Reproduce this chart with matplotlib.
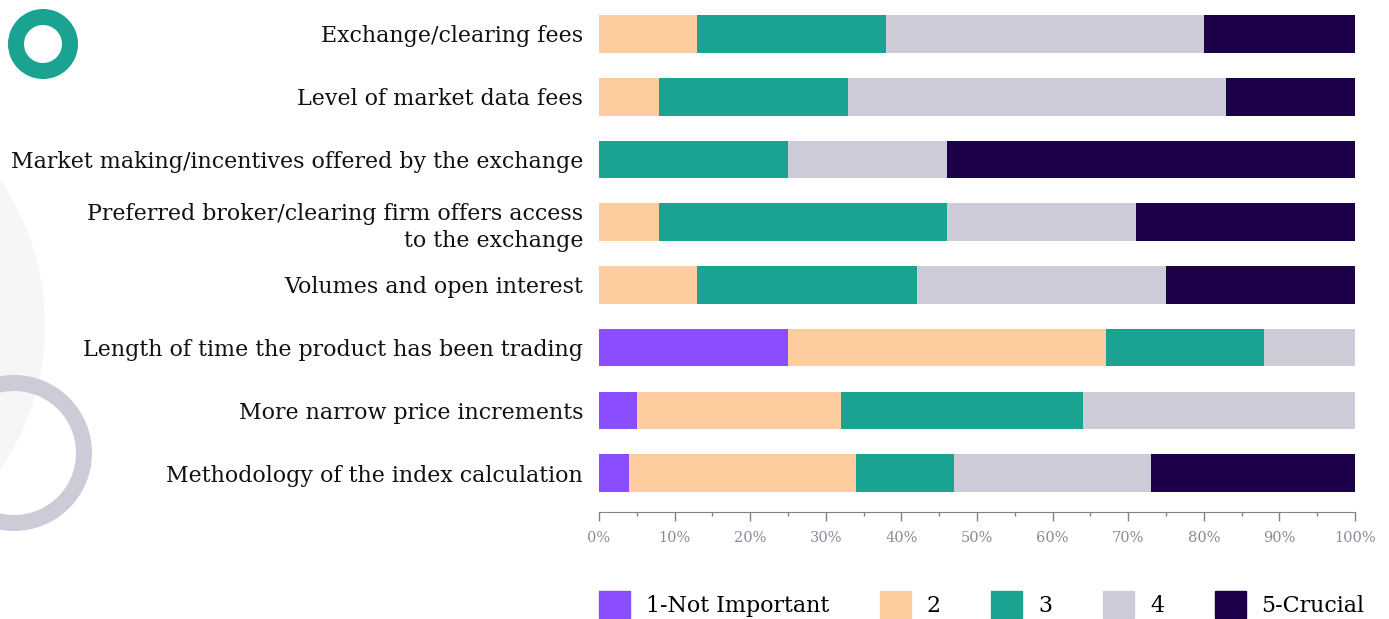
import numpy as np
import matplotlib
matplotlib.use("Agg")
import matplotlib.pyplot as plt
from matplotlib.patches import Circle, Wedge, Patch
from matplotlib.ticker import MultipleLocator, PercentFormatter

# ---------------------------------------------------------------------------
# Data (percent of respondents per rating)
# ---------------------------------------------------------------------------
factors = [
    "Exchange/clearing fees",
    "Level of market data fees",
    "Market making/incentives offered by the exchange",
    "Preferred broker/clearing firm offers access\nto the exchange",
    "Volumes and open interest",
    "Length of time the product has been trading",
    "More narrow price increments",
    "Methodology of the index calculation",
]
ratings = ["1-Not Important", "2", "3", "4", "5-Crucial"]
r1 = [0, 0, 0, 0, 0, 25, 5, 4]
r2 = [13, 8, 0, 8, 13, 42, 27, 30]
r3 = [25, 25, 25, 38, 29, 21, 32, 13]
r4 = [42, 50, 21, 25, 33, 12, 36, 26]
r5 = [20, 17, 54, 29, 25, 0, 0, 27]
colors = ["#8a4dff", "#fecd9f", "#19a390", "#cdcbd8", "#1c004a"]

SERIF = "DejaVu Serif"
W, H = 1389, 619
fig = plt.figure(figsize=(W / 100, H / 100), dpi=100)

# background decorations in pixel coordinates
deco = fig.add_axes([0, 0, 1, 1], zorder=0)
deco.set_xlim(0, W)
deco.set_ylim(H, 0)
deco.set_aspect("equal")
deco.axis("off")
deco.add_patch(Circle((-211, 325), 256, color="#f6f6f7", lw=0))
deco.add_patch(Wedge((14, 453), 78, 0, 360, width=16, color="#cdcbd8", lw=0))
deco.add_patch(Wedge((43, 44), 35, 0, 360, width=16, color="#19a390", lw=0))

ax = fig.add_axes([599 / W, 1 - 512 / H, 756 / W, 509.4 / H], zorder=1)
ax.patch.set_alpha(0)

y = np.arange(len(factors))
left = np.zeros(len(factors))
for vals, c, lab in zip([r1, r2, r3, r4, r5], colors, ratings):
    ax.barh(y, vals, left=left, height=0.6, color=c, label=lab)
    left += np.array(vals)

ax.set_xlim(0, 100)
ax.set_ylim(7.62, -0.5)
ax.set_yticks(y)
ax.set_yticklabels(factors, family=SERIF, fontsize=15.9, color="#111111",
                   linespacing=1.3)
ax.tick_params(axis="y", length=0, pad=11.5)

ax.xaxis.set_major_locator(MultipleLocator(10))
ax.xaxis.set_minor_locator(MultipleLocator(5))
ax.xaxis.set_major_formatter(PercentFormatter(decimals=0))
ax.tick_params(axis="x", which="major", length=6.5, width=1, color="#808090",
               labelcolor="#8a8a99", labelsize=10.5, pad=7)
ax.tick_params(axis="x", which="minor", length=3, width=1, color="#808090")
for lbl in ax.get_xticklabels():
    lbl.set_family(SERIF)

for s in ["top", "right", "left"]:
    ax.spines[s].set_visible(False)
ax.spines["bottom"].set_color("#808090")

handles = [Patch(color=c) for c in colors]
fig.legend(handles, ratings, loc="lower left", bbox_to_anchor=(599 / W, 1 / H),
           ncol=5, frameon=False, borderpad=0, borderaxespad=0,
           handlelength=1.4, handleheight=1.5,
           handletextpad=0.72, columnspacing=2.3,
           prop={"family": SERIF, "size": 15.9})

fig.savefig("out.png", dpi=100)
